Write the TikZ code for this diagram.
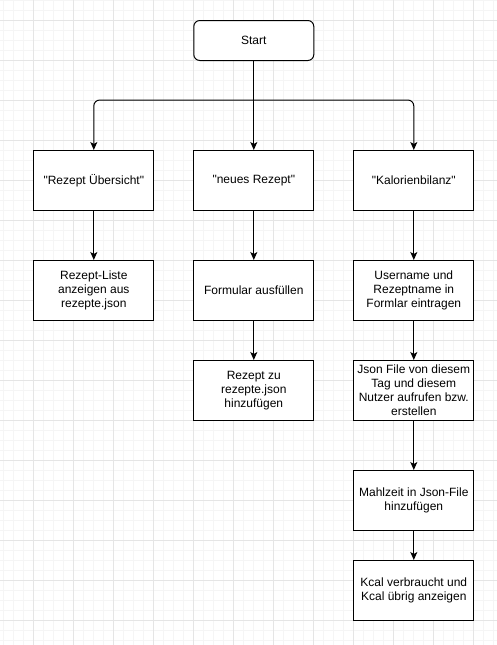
\documentclass[tikz,border=0pt]{standalone}
\usepackage{fontspec}
\setmainfont{Liberation Sans}[Ligatures=TeXOff]
\usetikzlibrary{arrows.meta}
\begin{document}
\begin{tikzpicture}[x=1pt,y=-1pt,
  box/.style={draw=black,line width=1pt,fill=white,minimum width=120pt,minimum height=60pt,
    inner sep=0pt,align=center,font=\fontsize{12pt}{14pt}\selectfont,anchor=north west},
  startbox/.style={box,rounded corners=6pt,minimum height=40pt},
  conn/.style={line width=1pt,-{Stealth[length=8pt,width=7pt,inset=2pt]}},
  minorgrid/.style={draw=black!4,line width=0.8pt},
  majorgrid/.style={draw=black!10,line width=0.8pt}]
\useasboundingbox (0,0) rectangle (497,645);
\fill[white] (0,0) rectangle (497,645);
% grid
\foreach \x in {3.33,13.33,...,497} {\draw[minorgrid] (\x,0) -- (\x,645);}
\foreach \y in {0,10,...,645} {\draw[minorgrid] (0,\y) -- (497,\y);}
\foreach \x in {33.33,73.33,...,497} {\draw[majorgrid] (\x,0) -- (\x,645);}
\foreach \y in {20,60,...,645} {\draw[majorgrid] (0,\y) -- (497,\y);}
% nodes
\node[startbox] (start) at (193.3,20) {Start};
\node[box] (rez) at (33.3,150) {"Rezept Übersicht"};
\node[box] (neu) at (193.3,150) {"neues Rezept"};
\node[box] (kal) at (353.3,150) {"Kalorienbilanz"};
\node[box] (liste) at (33.3,260) {Rezept-Liste\\anzeigen aus\\rezepte.json};
\node[box] (form) at (193.3,260) {Formular ausfüllen};
\node[box] (user) at (353.3,260) {Username und\\Rezeptname in\\Formlar eintragen};
\node[box] (zu) at (193.3,360) {Rezept zu\\rezepte.json\\hinzufügen};
\node[box] (json) at (353.3,360) {Json File von diesem\\Tag und diesem\\Nutzer aufrufen bzw.\\erstellen};
\node[box] (mahl) at (353.3,470) {Mahlzeit in Json-File\\hinzufügen};
\node[box] (kcal) at (353.3,560) {Kcal verbraucht und\\Kcal übrig anzeigen};
% connectors
\coordinate (j) at (start.south |- 0,100);
\draw[conn] (start.south) -- (neu.north);
\draw[conn,rounded corners=6pt] (j) -| (rez.north);
\draw[conn,rounded corners=6pt] (j) -| (kal.north);
\draw[conn] (rez.south) -- (liste.north);
\draw[conn] (neu.south) -- (form.north);
\draw[conn] (kal.south) -- (user.north);
\draw[conn] (form.south) -- (zu.north);
\draw[conn] (user.south) -- (json.north);
\draw[conn] (json.south) -- (mahl.north);
\draw[conn] (mahl.south) -- (kcal.north);
\end{tikzpicture}
\end{document}
